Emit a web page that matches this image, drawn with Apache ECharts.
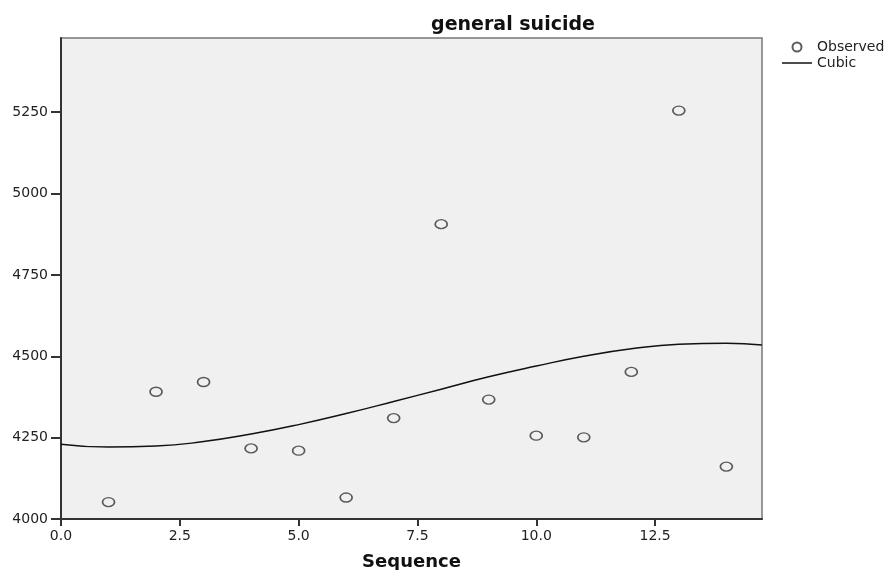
<!DOCTYPE html>
<html>
<head>
<meta charset="utf-8">
<script src="https://cdn.jsdelivr.net/npm/echarts@6/dist/echarts.min.js"></script>
<style>
  html, body { margin: 0; padding: 0; background: #fff; }
  #chart { width: 894px; height: 570px; }
</style>
</head>
<body>
<div id="chart"></div>
<script>
// observed points
const sequence = [1, 2, 3, 4, 5, 6, 7, 8, 9, 10, 11, 12, 13, 14];
const observed = [4052, 4391, 4421, 4217, 4210, 4066, 4310, 4906, 4367, 4256, 4251, 4452, 5255, 4161];

// cubic fit line
const cubicX = [0, 1, 2, 3, 4, 5, 6, 7, 8, 9, 10, 11, 12, 13, 14, 14.75];
const cubicY = [4230, 4221, 4224, 4238, 4261, 4290, 4324, 4361, 4399, 4437, 4470, 4500, 4523, 4537, 4540, 4535];

// tick labels
const xTicks = [0, 2.5, 5, 7.5, 10, 12.5];
const yTicks = [4000, 4250, 4500, 4750, 5000, 5250];

const font = 'DejaVu Sans';

let chart = echarts.init(document.getElementById('chart'), null, {width: 894, height: 570});

let option = {
  backgroundColor: '#fff',
  animation: false,
  title: {
    text: 'general suicide',
    left: 508,
    top: 11,
    textAlign: 'center',
    textStyle: {fontFamily: font, fontSize: 19, fontWeight: 'bold', color: '#111'}
  },
  legend: {
    orient: 'vertical',
    left: 782,
    top: 40,
    padding: 0,
    itemWidth: 30,
    itemHeight: 9,
    itemGap: 2,
    textStyle: {fontFamily: font, fontSize: 14, color: '#222'},
    data: [
      {name: 'Observed'},
      {name: 'Cubic', icon: 'path://M0,0H30V1.5H0Z', itemStyle: {color: '#111'}}
    ]
  },
  grid: {
    left: 61,
    right: 132,
    top: 38,
    bottom: 51,
    outerBoundsMode: 'none',
    show: true,
    backgroundColor: '#f0f0f0',
    borderColor: '#777',
    borderWidth: 1.5
  },
  xAxis: {
    type: 'value',
    min: 0,
    max: 14.75,
    name: 'Sequence',
    nameLocation: 'middle',
    nameGap: 34,
    nameTextStyle: {fontFamily: font, fontSize: 18, fontWeight: 'bold', color: '#111'},
    splitLine: {show: false},
    axisLine: {lineStyle: {color: '#333', width: 2}},
    axisTick: {length: 7, customValues: xTicks, lineStyle: {color: '#333', width: 2}},
    axisLabel: {
      customValues: xTicks,
      margin: 10,
      fontFamily: font,
      fontSize: 14,
      color: '#222',
      formatter: function (v) { return v.toFixed(1); }
    }
  },
  yAxis: {
    type: 'value',
    min: 4000,
    max: 5478,
    splitLine: {show: false},
    axisLine: {lineStyle: {color: '#333', width: 2}},
    axisTick: {length: 10, customValues: yTicks, lineStyle: {color: '#333', width: 2}},
    axisLabel: {
      customValues: yTicks,
      margin: 13,
      fontFamily: font,
      fontSize: 14,
      color: '#222',
      formatter: function (v) { return String(v); }
    }
  },
  series: [
    {
      name: 'Observed',
      type: 'scatter',
      data: sequence.map((s, i) => [s, observed[i]]),
      symbol: 'circle',
      symbolSize: [12, 9],
      itemStyle: {color: 'transparent', borderColor: '#333', borderWidth: 1.5}
    },
    {
      name: 'Cubic',
      type: 'line',
      data: cubicX.map((x, i) => [x, cubicY[i]]),
      smooth: 0.5,
      symbol: 'none',
      lineStyle: {color: '#111', width: 1.5},
      itemStyle: {color: '#111'}
    }
  ]
};

chart.setOption(option);
</script>
</body>
</html>
